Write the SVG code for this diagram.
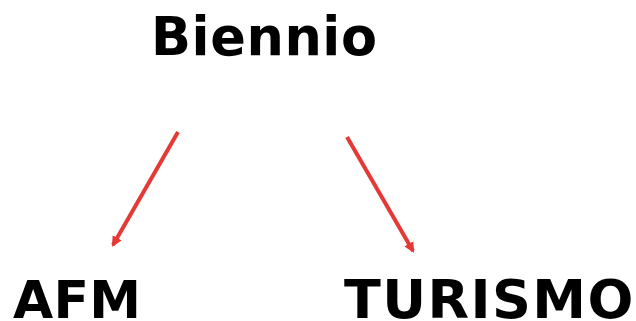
<svg xmlns="http://www.w3.org/2000/svg" width="636" height="321" viewBox="0 0 636 321">
<style>
.t{font-family:"DejaVu Sans",sans-serif;font-weight:bold;fill:#000}
.c{stroke:#e53935;stroke-width:4;fill:none}
</style>
<defs>
<marker id="ah" viewBox="0 0 10 10" refX="8" refY="5" markerWidth="2.6" markerHeight="2.6" orient="auto" markerUnits="strokeWidth">
<path d="M0,0 L10,5 L0,10 z" fill="#e53935"/>
</marker>
</defs>
<rect width="636" height="321" fill="#fff"/>
<g id="biennio"><text class="t" x="151" y="55" font-size="52.5" letter-spacing="0.6">Biennio</text></g>
<g id="afm"><text class="t" x="13" y="318" font-size="52" letter-spacing="0.3">AFM</text></g>
<g id="turismo"><text class="t" x="344" y="318" font-size="54" letter-spacing="1.4">TURISMO</text></g>
<g id="connectors">
<line class="c" x1="178" y1="132" x2="113" y2="245" marker-end="url(#ah)"/>
<line class="c" x1="347" y1="137" x2="413" y2="251" marker-end="url(#ah)"/>
</g>
</svg>
